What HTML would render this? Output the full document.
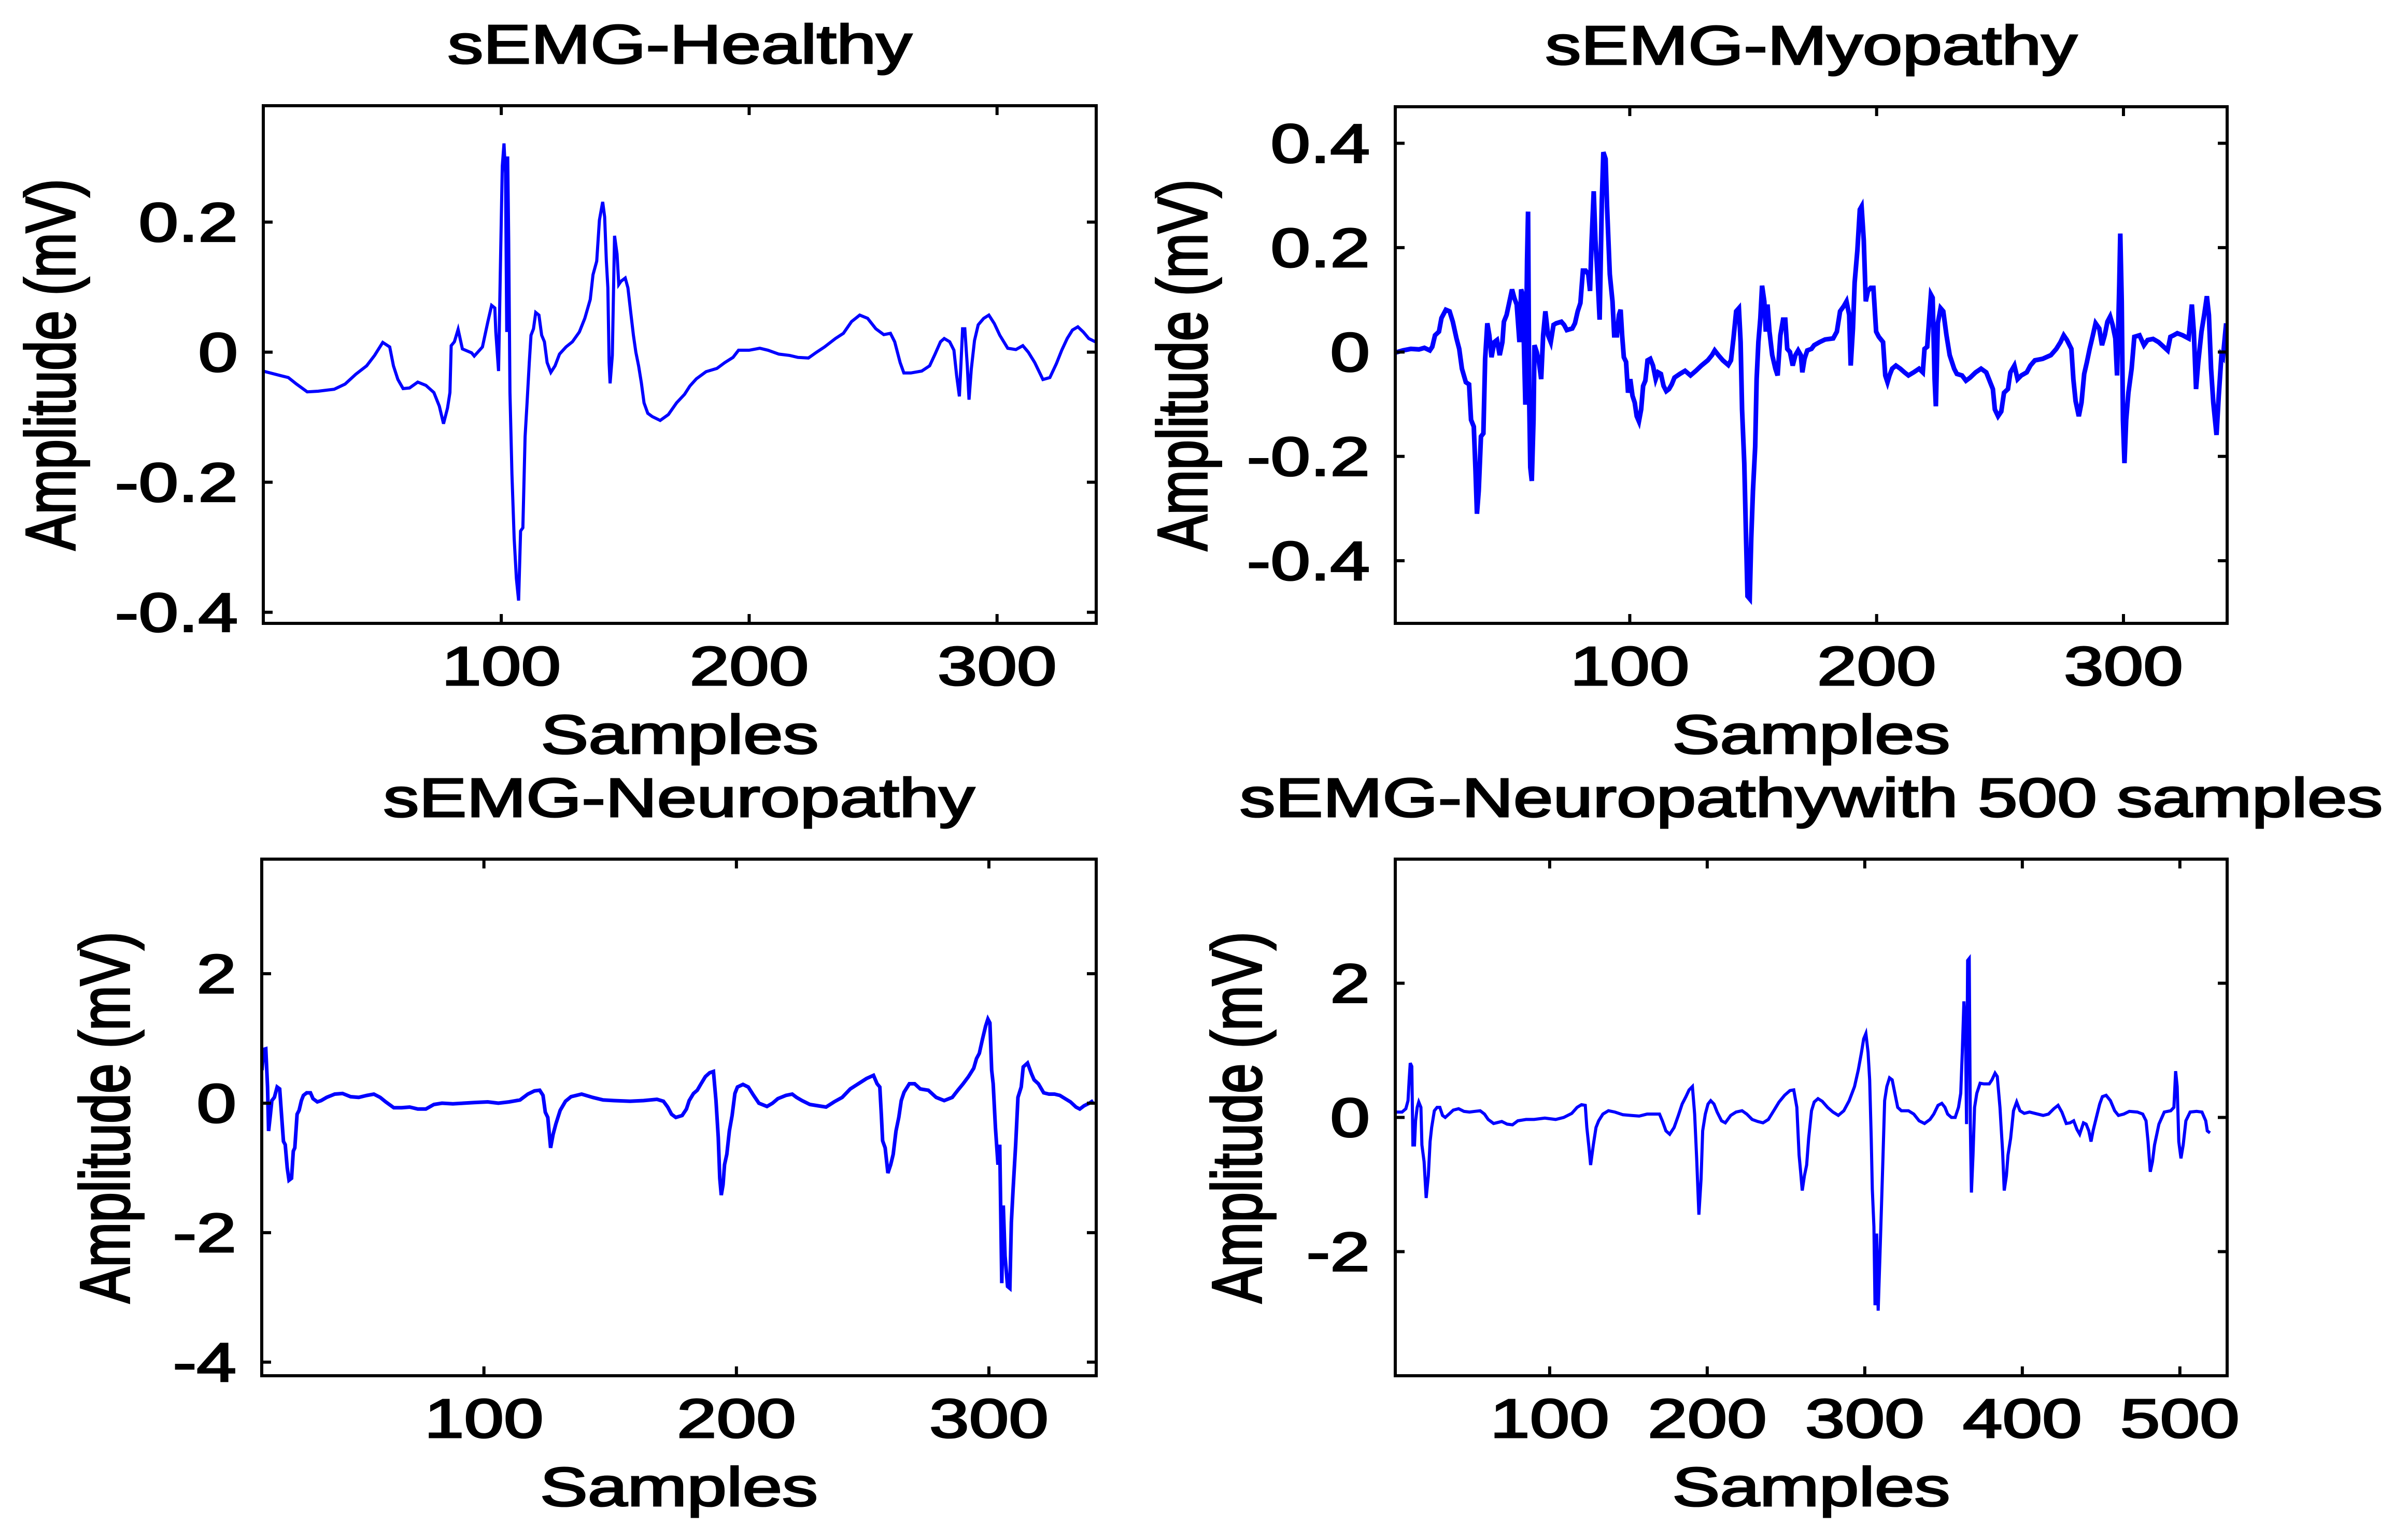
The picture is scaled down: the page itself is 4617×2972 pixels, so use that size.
<!DOCTYPE html>
<html><head><meta charset="utf-8">
<style>
html,body{margin:0;padding:0;background:#fff;}
svg{display:block;}
text{font-family:"Liberation Sans",Arial,sans-serif;fill:#000;stroke:#000;stroke-width:3;}
</style></head>
<body>
<svg id="fig" width="4617" height="2972" viewBox="0 0 4617 2972" xmlns="http://www.w3.org/2000/svg">
<rect x="0" y="0" width="4617" height="2972" fill="#fff"/>
</svg>
<script>
// ---------- Data ----------
const healthyX = [3.9,10.9,14.1,17.4,21.7,26.1,32.6,37.0,41.3,45.7,48.9,52.2,55.0,56.5,58.3,60.4,63.0,66.3,69.6,72.8,75.0,76.7,78.3,79.3,79.8,81.1,82.6,84.3,88.0,89.1,92.4,94.6,96.1,97.4,97.8,98.9,99.6,100.4,101.1,101.7,102.2,102.6,103.0,103.5,104.3,105.2,106.1,107.0,107.8,108.7,109.6,110.4,111.3,112.0,113.0,113.9,115.2,116.3,117.4,118.5,120.0,121.7,123.5,126.1,128.7,131.5,133.7,135.9,137.0,138.5,139.6,140.9,141.7,142.4,143.0,143.5,143.9,144.8,145.7,146.7,147.4,148.3,150.0,151.1,152.2,153.3,154.3,155.4,156.5,157.6,159.1,160.9,164.1,167.4,170.7,173.9,176.1,178.7,182.6,187.0,190.2,193.5,195.7,200.0,204.3,207.6,212.0,216.3,219.6,223.9,227.2,230.4,234.8,238.0,241.3,244.6,247.8,251.1,254.3,257.0,258.7,260.9,262.4,265.2,269.6,272.8,275.0,277.2,278.7,280.9,282.6,283.7,284.8,285.4,286.1,287.0,288.0,288.7,289.6,290.9,292.4,294.6,296.7,298.9,301.1,304.3,307.6,310.4,312.6,315.2,318.5,321.3,323.9,326.1,328.3,330.4,332.6,334.8,337.0,339.6];
const healthyY = [-0.029,-0.036,-0.039,-0.049,-0.061,-0.060,-0.057,-0.049,-0.034,-0.021,-0.005,0.015,0.008,-0.021,-0.042,-0.056,-0.055,-0.046,-0.051,-0.062,-0.083,-0.110,-0.086,-0.062,0.010,0.016,0.035,0.005,-0.001,-0.006,0.008,0.047,0.072,0.068,0.031,-0.029,0.119,0.286,0.321,0.275,0.031,0.301,0.171,-0.062,-0.187,-0.286,-0.348,-0.382,-0.275,-0.270,-0.130,-0.078,-0.016,0.026,0.036,0.061,0.057,0.026,0.016,-0.016,-0.031,-0.021,-0.003,0.008,0.016,0.031,0.052,0.081,0.119,0.140,0.203,0.231,0.208,0.140,0.099,-0.016,-0.048,-0.005,0.179,0.151,0.104,0.109,0.114,0.099,0.062,0.026,0,-0.021,-0.047,-0.078,-0.094,-0.099,-0.105,-0.096,-0.078,-0.065,-0.052,-0.041,-0.030,-0.025,-0.016,-0.008,0.003,0.003,0.006,0.003,-0.003,-0.005,-0.008,-0.009,0,0.008,0.021,0.029,0.047,0.057,0.052,0.036,0.027,0.029,0.016,-0.016,-0.032,-0.032,-0.029,-0.021,-0.003,0.016,0.021,0.016,0.003,-0.036,-0.068,-0.021,0.036,0.036,-0.021,-0.073,-0.026,0.018,0.042,0.052,0.057,0.044,0.026,0.006,0.004,0.010,0,-0.016,-0.042,-0.039,-0.018,0.003,0.021,0.034,0.039,0.031,0.021,0.016];

const myoX = [5.2,8.1,11.3,14.6,16.8,19.0,20.0,21.1,22.7,23.7,25.5,27.0,28.3,29.8,30.9,32.0,33.6,34.9,35.7,36.8,37.5,38.1,38.8,39.7,40.7,41.4,42.3,43.1,44.0,45.1,46.2,47.3,48.4,49.0,50.1,51.0,52.3,53.2,54.2,55.3,56.0,56.6,57.1,57.7,58.4,58.8,59.3,59.7,60.3,61.0,61.4,62.3,63.2,64.1,64.9,65.8,66.9,68.0,69.1,70.2,72.3,73.4,74.5,76.7,77.8,78.9,80.0,81.0,82.1,83.2,83.9,84.5,85.4,86.1,86.9,87.8,88.7,89.3,90.2,90.8,91.9,93.0,93.7,94.8,95.6,96.3,96.9,97.6,98.5,99.3,100.2,101.1,102.0,102.8,103.7,104.6,105.4,106.3,107.2,108.3,109.4,110.5,111.5,112.6,113.7,114.8,115.9,117.0,118.1,120.3,122.4,124.6,126.8,129.0,131.6,133.3,134.4,135.9,137.7,139.9,141.0,142.0,143.1,144.2,144.9,145.5,146.4,147.1,147.7,148.6,149.2,149.9,150.8,151.4,152.1,152.9,153.6,154.5,155.1,155.8,156.6,157.7,159.0,159.9,161.0,162.1,163.0,163.8,164.9,166.0,167.1,168.2,169.3,169.9,170.8,171.9,173.6,174.7,176.9,179.1,182.4,183.9,185.2,186.7,187.8,188.9,189.5,190.4,191.1,192.2,193.2,193.9,194.8,195.6,196.5,197.6,198.7,199.8,200.9,202.6,203.5,204.4,205.2,206.3,207.8,209.6,211.3,212.9,215.0,217.2,218.7,219.4,220.5,221.4,222.0,222.7,223.5,224.0,224.8,225.9,227.0,228.3,229.6,231.4,232.5,234.6,236.2,237.9,240.1,242.3,244.4,245.5,247.1,247.9,249.2,250.5,251.6,253.2,254.2,255.8,257.1,258.6,260.8,262.3,264.1,267.3,270.6,272.8,274.5,275.8,277.1,278.9,279.7,280.6,281.9,283.0,284.1,285.2,286.3,287.6,288.7,290.2,291.3,292.4,293.5,294.6,295.6,296.7,297.4,298.3,298.7,299.3,299.8,300.4,301.1,302.0,303.3,304.4,306.5,308.3,309.8,312.0,314.2,316.3,317.9,319.0,320.3,321.8,324.0,326.4,327.7,328.5,329.4,330.3,331.6,332.7,333.8,334.6,335.5,336.4,337.7,338.6,339.7,340.3,341.6];
const myoY = [-0.001,0.003,0.006,0.005,0.008,0.003,0.010,0.032,0.039,0.065,0.081,0.078,0.058,0.026,0.006,-0.032,-0.058,-0.062,-0.130,-0.143,-0.227,-0.310,-0.266,-0.162,-0.156,-0.013,0.055,0.032,-0.010,0.019,0.023,-0.006,0.019,0.058,0.071,0.091,0.120,0.104,0.091,0.019,0.120,0.110,0.019,-0.101,0.175,0.269,-0.101,-0.221,-0.247,-0.130,0.013,0,-0.019,-0.052,0.032,0.078,0.032,0.019,0.052,0.055,0.058,0.052,0.042,0.045,0.055,0.078,0.094,0.156,0.156,0.149,0.117,0.208,0.308,0.214,0.149,0.062,0.292,0.383,0.370,0.279,0.149,0.097,0.032,0.032,0.071,0.081,0.032,-0.010,-0.019,-0.078,-0.052,-0.084,-0.097,-0.123,-0.133,-0.110,-0.065,-0.055,-0.016,-0.013,-0.026,-0.052,-0.039,-0.042,-0.065,-0.075,-0.071,-0.062,-0.049,-0.042,-0.036,-0.045,-0.036,-0.026,-0.016,-0.006,0.003,-0.006,-0.016,-0.025,-0.016,0.026,0.078,0.084,0.019,-0.110,-0.214,-0.357,-0.468,-0.473,-0.357,-0.266,-0.182,-0.052,0.019,0.065,0.127,0.097,0.039,0.091,0.039,-0.006,-0.032,-0.045,0.032,0.062,0.062,0.006,0,-0.026,-0.006,0.003,-0.006,-0.039,-0.013,0.003,0.006,0.013,0.019,0.024,0.026,0.039,0.078,0.088,0.097,0.071,-0.026,0.045,0.133,0.195,0.273,0.279,0.214,0.097,0.117,0.123,0.123,0.039,0.029,0.019,-0.045,-0.058,-0.045,-0.032,-0.026,-0.032,-0.039,-0.045,-0.039,-0.032,-0.039,0.006,0.010,0.071,0.110,0.104,-0.052,-0.104,0.055,0.084,0.078,0.032,-0.006,-0.032,-0.042,-0.045,-0.055,-0.049,-0.039,-0.032,-0.039,-0.052,-0.071,-0.110,-0.123,-0.114,-0.078,-0.071,-0.039,-0.026,-0.052,-0.045,-0.039,-0.026,-0.016,-0.013,-0.006,0.006,0.019,0.032,0.023,0.006,-0.052,-0.094,-0.123,-0.097,-0.042,-0.019,0.006,0.032,0.055,0.045,0.013,0.032,0.058,0.068,0.052,0.026,-0.045,0.130,0.227,0.097,-0.130,-0.213,-0.130,-0.078,-0.032,0.029,0.032,0.013,0.023,0.025,0.019,0.010,0.003,0.029,0.032,0.036,0.032,0.026,0.091,0.039,-0.071,-0.019,0.039,0.071,0.107,0.071,-0.032,-0.097,-0.159,-0.084,-0.006,-0.010,0.055];

const neuroX = [12.1,12.8,13.6,14.3,14.7,15.3,16.0,17.0,18.1,19.1,20.0,20.6,21.3,22.1,22.8,23.8,24.5,25.1,26.0,26.8,27.7,28.5,29.8,31.3,32.3,34.0,35.5,37.7,40.9,44.0,47.2,50.4,53.6,56.4,58.9,61.1,64.3,67.4,70.6,73.8,77.0,80.2,83.4,87.7,91.9,96.2,101.5,105.7,110.0,114.3,117.4,120.0,122.1,123.4,124.3,125.3,126.4,127.4,128.5,130.2,132.3,134.5,138.7,143.0,147.2,151.5,157.9,163.2,168.5,171.1,172.8,174.3,176.0,178.5,180.2,181.3,183.0,184.5,186.0,187.7,189.4,190.9,191.9,192.8,193.4,194.0,194.7,195.3,196.2,197.2,198.3,199.4,200.4,202.6,204.7,206.8,208.9,212.1,214.3,216.4,219.6,222.1,223.8,226.0,229.1,232.3,235.5,238.7,241.9,245.1,248.3,251.5,254.3,255.7,256.8,257.4,257.9,258.9,260.0,261.1,262.1,263.2,264.3,265.3,266.4,268.5,270.6,272.8,276.0,279.1,282.3,285.5,287.7,289.8,291.9,294.0,295.1,296.2,297.4,298.7,299.6,300.4,301.1,301.7,302.6,303.6,304.3,305.1,305.7,306.4,307.4,308.3,308.9,309.6,310.6,311.5,312.8,313.6,315.3,316.8,317.9,319.6,321.7,323.8,326.0,328.1,330.2,332.3,334.5,336.0,337.7,339.8,341.3];
const neuroY = [0.51,0.83,0.84,0.25,-0.43,-0.22,0.04,0.09,0.25,0.22,-0.27,-0.59,-0.64,-1.00,-1.19,-1.16,-0.74,-0.69,-0.17,-0.11,0.04,0.12,0.16,0.16,0.07,0.02,0.04,0.09,0.14,0.15,0.10,0.09,0.12,0.14,0.09,0.02,-0.07,-0.07,-0.06,-0.09,-0.09,-0.02,0,-0.01,0,0.01,0.02,0,0.02,0.05,0.14,0.19,0.20,0.12,-0.14,-0.22,-0.69,-0.48,-0.32,-0.11,0.03,0.10,0.14,0.09,0.05,0.04,0.03,0.04,0.06,0.03,-0.06,-0.17,-0.22,-0.19,-0.09,0.04,0.15,0.20,0.30,0.41,0.47,0.49,0.04,-0.53,-1.16,-1.42,-1.26,-0.95,-0.79,-0.43,-0.19,0.15,0.25,0.29,0.25,0.12,0,-0.05,0,0.07,0.12,0.14,0.09,0.04,-0.02,-0.04,-0.06,0.02,0.09,0.22,0.30,0.38,0.43,0.30,0.25,-0.17,-0.58,-0.69,-1.08,-0.95,-0.79,-0.43,-0.22,0.04,0.17,0.30,0.30,0.22,0.20,0.09,0.04,0.09,0.20,0.30,0.41,0.54,0.69,0.77,0.98,1.19,1.30,1.24,0.51,0.30,-0.38,-0.95,-0.64,-2.78,-1.58,-2.36,-2.83,-2.86,-1.84,-1.32,-0.64,0.09,0.25,0.56,0.62,0.46,0.36,0.30,0.16,0.14,0.14,0.12,0.07,0.02,-0.06,-0.09,-0.04,0,0.04];

const neuro500X = [1.9,6.3,8.7,10.1,10.8,11.5,12.5,13.2,14.2,14.9,15.9,16.9,18.3,18.9,20.3,21.6,23.0,24.1,25.1,26.8,28.5,30.3,32.0,33.7,36.1,38.8,42.2,45.6,49.1,52.5,55.9,58.6,61.0,64.4,69.6,73.0,76.4,79.8,85.0,90.1,96.9,103.8,108.9,114.0,117.4,120.2,122.6,123.6,125.0,126.0,127.7,129.4,131.1,133.8,137.3,141.4,146.5,151.6,156.8,161.9,167.0,169.7,171.5,173.8,176.2,179.0,181.7,184.1,186.5,188.5,190.6,192.0,193.3,194.7,196.1,197.1,198.8,200.5,202.2,204.3,206.3,209.1,211.5,214.9,218.3,222.1,225.1,228.5,232.0,235.4,238.8,242.2,245.6,249.1,252.5,254.9,256.9,258.3,259.3,260.3,261.7,263.1,264.4,266.2,267.9,270.3,273.0,276.4,279.8,283.2,286.7,290.1,293.5,295.9,297.9,299.3,300.7,302.1,303.1,304.1,304.8,305.8,306.5,307.5,308.5,309.6,310.6,311.6,312.6,314.0,315.7,317.4,319.1,320.9,323.2,327.7,331.1,334.5,337.9,341.4,343.8,346.5,348.9,350.9,352.6,355.0,357.4,359.5,360.9,361.9,362.9,363.9,364.6,365.3,366.3,367.0,367.7,368.7,369.7,371.1,373.2,375.6,379.0,380.7,382.7,384.1,385.8,387.5,388.5,389.9,390.9,392.6,394.4,396.4,398.5,401.2,404.6,408.0,413.2,416.6,420.0,422.7,425.1,427.9,430.3,432.6,434.7,436.4,438.8,440.5,442.2,443.6,444.9,447.3,449.1,450.8,453.2,455.9,458.6,461.0,464.4,467.9,473.0,476.4,478.5,479.8,481.2,482.6,483.9,486.7,490.1,494.2,496.2,497.3,498.3,499.3,500.7,502.1,503.8,506.5,510.6,514.0,516.4,517.4,519.1];
const neuro500Y = [0.08,0.08,0.13,0.25,0.56,0.81,0.76,-0.41,-0.41,-0.05,0.15,0.23,0.15,-0.41,-0.66,-1.20,-0.87,-0.36,-0.15,0.10,0.15,0.15,0.03,0,0.05,0.11,0.13,0.09,0.08,0.09,0.10,0.05,-0.03,-0.09,-0.06,-0.10,-0.11,-0.05,-0.03,-0.03,-0.01,-0.03,0,0.06,0.15,0.19,0.18,-0.15,-0.46,-0.71,-0.41,-0.15,-0.05,0.05,0.10,0.08,0.04,0.03,0.02,0.05,0.05,0.05,-0.05,-0.20,-0.25,-0.15,0.03,0.20,0.31,0.41,0.46,0.05,-0.61,-1.45,-0.92,-0.20,0.05,0.20,0.25,0.20,0.08,-0.05,-0.08,0.03,0.08,0.10,0.05,-0.03,-0.06,-0.08,-0.03,0.10,0.23,0.33,0.40,0.41,0.15,-0.56,-0.81,-1.09,-0.87,-0.71,-0.31,0.10,0.23,0.28,0.24,0.15,0.08,0.03,0.10,0.25,0.46,0.71,0.97,1.17,1.25,0.97,0.56,-0.31,-1.07,-1.63,-2.80,-1.73,-2.88,-2.09,-1.32,-0.56,0.25,0.46,0.59,0.56,0.36,0.15,0.10,0.10,0.05,-0.05,-0.09,-0.03,0.05,0.18,0.21,0.15,0.05,0,0,0.15,0.36,0.97,1.73,1.32,-0.10,2.34,2.37,-0.10,-1.12,-0.56,0.15,0.36,0.51,0.50,0.50,0.56,0.66,0.61,0.15,-0.51,-1.09,-0.87,-0.56,-0.31,0.10,0.23,0.10,0.06,0.08,0.06,0.03,0.05,0.13,0.18,0.08,-0.09,-0.08,-0.05,-0.18,-0.25,-0.08,-0.10,-0.20,-0.36,-0.20,0.03,0.20,0.31,0.33,0.25,0.10,0.03,0.05,0.09,0.08,0.05,-0.05,-0.36,-0.81,-0.66,-0.41,-0.10,0.08,0.10,0.15,0.69,0.46,-0.36,-0.61,-0.41,-0.05,0.08,0.09,0.08,-0.05,-0.20,-0.23];

const titles = ["sEMG-Healthy","sEMG-Myopathy","sEMG-Neuropathy","sEMG-Neuropathywith 500 samples"];
const xTicks1 = [100,200,300];
const xTicks4 = [100,200,300,400,500];
const yTicksHealthy = [-0.4,-0.2,0,0.2];
const yTickLabelsHealthy = ["-0.4","-0.2","0","0.2"];
const yTicksMyo = [-0.4,-0.2,0,0.2,0.4];
const yTickLabelsMyo = ["-0.4","-0.2","0","0.2","0.4"];
const yTicksNeuro = [-4,-2,0,2];
const yTickLabelsNeuro = ["-4","-2","0","2"];
const yTicksNeuro500 = [-2,0,2];
const yTickLabelsNeuro500 = ["-2","0","2"];

// ---------- Layout ----------
const panels = [
  {name:"healthy", L:508, T:204, R:2115, B:1203, xmin:4, xmax:340, ymin:-0.417, ymax:0.379, xs:healthyX, ys:healthyY, xt:xTicks1, yt:yTicksHealthy, ytl:yTickLabelsHealthy, lw:6, ylabX:144},
  {name:"myopathy", L:2692, T:206, R:4297, B:1203, xmin:5, xmax:342, ymin:-0.52, ymax:0.47, xs:myoX, ys:myoY, xt:xTicks1, yt:yTicksMyo, ytl:yTickLabelsMyo, lw:9, ylabX:2328},
  {name:"neuropathy", L:505, T:1658, R:2115, B:2655, xmin:12, xmax:342.5, ymin:-4.21, ymax:3.77, xs:neuroX, ys:neuroY, xt:xTicks1, yt:yTicksNeuro, ytl:yTickLabelsNeuro, lw:7, ylabX:249},
  {name:"neuropathy-500", L:2692, T:1658, R:4297, B:2655, xmin:2, xmax:530, ymin:-3.85, ymax:3.85, xs:neuro500X, ys:neuro500Y, xt:xTicks4, yt:yTicksNeuro500, ytl:yTickLabelsNeuro500, lw:6, ylabX:2433}
];

const NS = "http://www.w3.org/2000/svg";
const svg = document.getElementById("fig");
function mk(tag, attrs, parent){
  const e = document.createElementNS(NS, tag);
  for (const k in attrs) e.setAttribute(k, attrs[k]);
  parent.appendChild(e);
  return e;
}
function txt(parent, s, x, y, anchor, extra){
  const t = mk("text", {"font-size":106, "text-anchor":anchor, transform:"translate("+x+","+y+") "+(extra||"scale(1.3,1)")}, parent);
  t.textContent = s;
  return t;
}

panels.forEach((p, i) => {
  const g = mk("g", {}, svg);
  
  
  const sx = v => p.L + (v - p.xmin) / (p.xmax - p.xmin) * (p.R - p.L);
  const sy = v => p.B - (v - p.ymin) / (p.ymax - p.ymin) * (p.B - p.T);

  let d = "";
  for (let k = 0; k < p.xs.length; k++) {
    d += (k ? "L" : "M") + sx(p.xs[k]).toFixed(1) + "," + sy(p.ys[k]).toFixed(1);
  }
  const clip = mk("clipPath", {id:"clip"+i}, g);
  mk("rect", {x:p.L, y:p.T, width:p.R-p.L, height:p.B-p.T}, clip);
  const line = mk("path", {d:d, fill:"none", stroke:"#0000ff", "stroke-width":p.lw, "stroke-linejoin":"miter", "clip-path":"url(#clip"+i+")"}, g);
  
  

  const box = mk("rect", {x:p.L, y:p.T, width:p.R-p.L, height:p.B-p.T, fill:"none", stroke:"#000", "stroke-width":6}, g);
  
  

  p.xt.forEach(v => {
    const x = sx(v);
    mk("line", {x1:x, y1:p.B, x2:x, y2:p.B-18, stroke:"#000", "stroke-width":6}, g);
    mk("line", {x1:x, y1:p.T, x2:x, y2:p.T+18, stroke:"#000", "stroke-width":6}, g);
    const t = txt(g, String(v), x, p.B + 119, "middle");
    
    
  });
  p.yt.forEach((v, k) => {
    const y = sy(v);
    mk("line", {x1:p.L, y1:y, x2:p.L+18, y2:y, stroke:"#000", "stroke-width":6}, g);
    mk("line", {x1:p.R, y1:y, x2:p.R-18, y2:y, stroke:"#000", "stroke-width":6}, g);
    const t = txt(g, p.ytl[k], p.L - 49, y + 37, "end");
    
    
  });

  const tt = txt(g, titles[i], (p.L + p.R) / 2, p.T - 82, "middle");
  
  
  const xl = txt(g, "Samples", (p.L + p.R) / 2, p.B + 251, "middle");
  
  
  const yl = txt(g, "Amplitude (mV)", p.ylabX, (p.T + p.B) / 2, "middle", "scale(1.3,1) rotate(-90)");
  yl.setAttribute("font-size", "104");
  
  
});
</script>
</body></html>
